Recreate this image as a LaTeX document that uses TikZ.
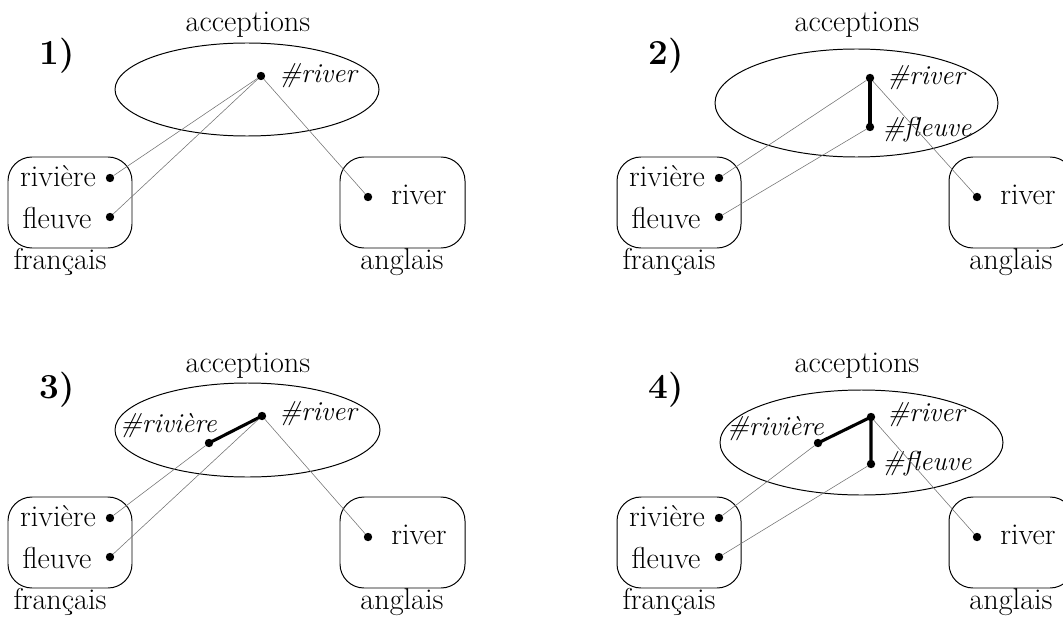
\documentclass[tikz,border=0pt]{standalone}
\usepackage{fontspec}
\def\picfont{\fontsize{21.5}{26}\selectfont}
\tikzset{
  dot/.style={circle, fill=black, inner sep=0pt, minimum size=0.21cm},
  link/.style={line width=0.4pt, black!55},
  tie/.style={line width=2.2pt, line cap=round},
  frame/.style={line width=0.7pt},
  langbox/.style={frame, rounded corners=0.6cm},
  sense/.style={font=\fontsize{19.5}{24}\selectfont\itshape, inner sep=0pt},
  word/.style={anchor=base, inner sep=0pt},
}

\begin{document}
\begin{tikzpicture}[x=0.025cm, y=-0.025cm, font=\picfont]
  \useasboundingbox (0,0) rectangle (1063,617);

  % what the four panels share
  \foreach \n/\dx/\dy/\ny in {1/0/0/65, 2/609/0/65, 3/0/340/58, 4/609/340/58}{
    \begin{scope}[shift={(\dx,\dy)}]
      \node[word, font=\fontsize{25}{30}\selectfont\bfseries] (num\n) at (57,\ny) {\n)};
      \node[word] (acc\n) at (248,32) {acceptions};
      \draw[langbox] (8,157) rectangle (132,248);
      \draw[langbox] (340,157) rectangle (465,248);
      \node[word] (fra\n) at (60,269) {français};
      \node[word] (ang\n) at (402,269) {anglais};
      \node[word] (wriv\n) at (58,186) {rivière};
      \node[word] (wfl\n) at (57,228) {fleuve};
      \node[word] (wen\n) at (419,204) {river};
      \node[dot] (riv\n) at (110,178) {};
      \node[dot] (fl\n) at (110,217) {};
      \node[dot] (en\n) at (368,197) {};
    \end{scope}
  }

  % 1)
  \begin{scope}[shift={(0,0)}]
    \draw[frame] (247,89.5) ellipse [x radius=132, y radius=46.5];
    \node[dot] (acriver1) at (261,76) {};
    \node[sense, anchor=base west] (lriver1) at (279,83) {\#river};
  \end{scope}
  \draw[link] (acriver1) -- (riv1);
  \draw[link] (acriver1) -- (fl1);
  \draw[link] (acriver1) -- (en1);

  % 2)
  \begin{scope}[shift={(609,0)}]
    \draw[frame] (247.5,103) ellipse [x radius=141.5, y radius=54];
    \node[dot] (acriver2) at (261,78) {};
    \node[dot] (acfleuve2) at (261,127) {};
    \node[sense, anchor=base west] (lriver2) at (278,85) {\#river};
    \node[sense, anchor=base west] (lfleuve2) at (273,137) {\#fleuve};
  \end{scope}
  \draw[tie] (acriver2.center) -- (acfleuve2.center);
  \draw[link] (acriver2) -- (riv2);
  \draw[link] (acfleuve2) -- (fl2);
  \draw[link] (acriver2) -- (en2);

  % 3)
  \begin{scope}[shift={(0,340)}]
    \draw[frame] (247.5,90) ellipse [x radius=132.5, y radius=47];
    \node[dot] (acriver3) at (262,76) {};
    \node[dot] (acriviere3) at (209,103) {};
    \node[sense, anchor=base west] (lriver3) at (279,80) {\#river};
    \node[sense, anchor=base east] (lriviere3) at (217,92) {\#rivière};
  \end{scope}
  \draw[tie] (acriviere3.center) -- (acriver3.center);
  \draw[link] (acriviere3) -- (riv3);
  \draw[link] (acriver3) -- (fl3);
  \draw[link] (acriver3) -- (en3);

  % 4)
  \begin{scope}[shift={(609,340)}]
    \draw[frame] (252.5,102.5) ellipse [x radius=141.5, y radius=52.5];
    \node[dot] (acriver4) at (262,77) {};
    \node[dot] (acriviere4) at (209,103) {};
    \node[dot] (acfleuve4) at (262,124) {};
    \node[sense, anchor=base west] (lriver4) at (278,81) {\#river};
    \node[sense, anchor=base east] (lriviere4) at (215,95) {\#rivière};
    \node[sense, anchor=base west] (lfleuve4) at (273,130) {\#fleuve};
  \end{scope}
  \draw[tie] (acriviere4.center) -- (acriver4.center) -- (acfleuve4.center);
  \draw[link] (acriviere4) -- (riv4);
  \draw[link] (acfleuve4) -- (fl4);
  \draw[link] (acriver4) -- (en4);
\end{tikzpicture}
\end{document}
